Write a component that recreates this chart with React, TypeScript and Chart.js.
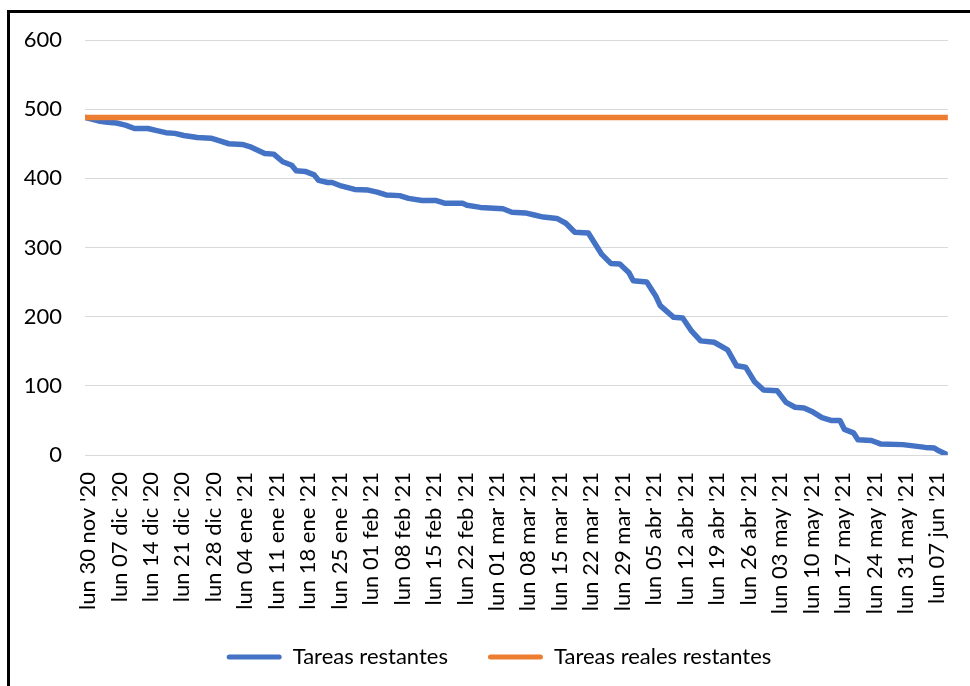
import { useEffect, useRef } from "react";
import { Chart, registerables } from "chart.js";

Chart.register(...registerables);

const tickLabels = [
  "lun 30 nov '20", "lun 07 dic '20", "lun 14 dic '20", "lun 21 dic '20", "lun 28 dic '20",
  "lun 04 ene '21", "lun 11 ene '21", "lun 18 ene '21", "lun 25 ene '21", "lun 01 feb '21",
  "lun 08 feb '21", "lun 15 feb '21", "lun 22 feb '21", "lun 01 mar '21", "lun 08 mar '21",
  "lun 15 mar '21", "lun 22 mar '21", "lun 29 mar '21", "lun 05 abr '21", "lun 12 abr '21",
  "lun 19 abr '21", "lun 26 abr '21", "lun 03 may '21", "lun 10 may '21", "lun 17 may '21",
  "lun 24 may '21", "lun 31 may '21", "lun 07 jun '21",
];

// days since lun 30 nov '20
const dayOffsets = [
  0, 3, 5, 7, 9, 11, 14, 16, 18, 20, 22, 25, 28, 30, 32, 35, 37, 40, 42, 44,
  46, 47, 49, 51, 52, 54, 55, 57, 60, 63, 65, 67, 70, 72, 75, 78, 80, 84, 85, 88,
  93, 95, 98, 100, 102, 105, 107, 109, 112, 115, 117, 119, 121, 122, 125, 127, 128, 131, 133, 135,
  137, 140, 143, 145, 147, 149, 151, 154, 156, 158, 160, 162, 164, 166, 168, 169, 171, 172, 175, 177,
  182, 187, 189, 190, 192,
];

const remainingTasks = [
  488, 483, 481, 480, 477, 472, 472, 469, 466, 465, 462, 459, 458, 454, 450, 449, 445, 436, 435, 424,
  419, 411, 410, 405, 397, 394, 394, 389, 384, 383, 380, 376, 375, 371, 368, 368, 364, 364, 361, 358,
  356, 351, 350, 347, 344, 342, 335, 322, 321, 290, 277, 276, 264, 252, 250, 230, 216, 199, 198, 179,
  165, 163, 152, 129, 127, 106, 94, 93, 76, 69, 68, 62, 54, 50, 50, 37, 32, 22, 21, 16,
  15, 11, 10, 6, 0,
];

const realDayOffsets = [0, 192];
const realRemainingTasks = [488, 488];

const seriesNames = ["Tareas restantes", "Tareas reales restantes"];
const seriesColors = ["#4472C4", "#ED7D31"];

const FONT = "Lato";
const FONT_SIZE = 22;

export default function App() {
  const canvasRef = useRef<HTMLCanvasElement | null>(null);

  useEffect(() => {
    if (!canvasRef.current) return;
    const chart = new Chart(canvasRef.current, {
      type: "line",
      data: {
        datasets: [
          {
            label: seriesNames[0],
            data: dayOffsets.map((d, i) => ({ x: d, y: remainingTasks[i] })),
            borderColor: seriesColors[0],
            backgroundColor: seriesColors[0],
            borderWidth: 5.5,
            pointRadius: 0,
            tension: 0,
            borderJoinStyle: "round",
            borderCapStyle: "round",
            order: 2,
          },
          {
            label: seriesNames[1],
            data: realDayOffsets.map((d, i) => ({ x: d, y: realRemainingTasks[i] })),
            borderColor: seriesColors[1],
            backgroundColor: seriesColors[1],
            borderWidth: 5.5,
            pointRadius: 0,
            tension: 0,
            borderJoinStyle: "round",
            borderCapStyle: "round",
            order: 1,
          },
        ],
      },
      options: {
        animation: false,
        responsive: false,
        maintainAspectRatio: false,
        layout: { padding: { left: 44, right: 16, top: 40, bottom: 8 } },
        scales: {
          x: {
            type: "linear",
            min: 0,
            max: 192,
            grid: { display: false },
            border: { display: false },
            afterBuildTicks: (s: any) => {
              s.ticks = tickLabels.map((_, i) => ({ value: i * 7 }));
            },
            afterFit: (s: any) => {
              s.height = 151;
              s._computeLabelArea = () => undefined;
            },
            ticks: {
              autoSkip: false,
              maxRotation: 90,
              minRotation: 90,
              padding: 9,
              labelOffset: 3,
              color: "#000",
              font: { family: FONT, size: FONT_SIZE },
              callback: (v: any) => tickLabels[Math.round(Number(v) / 7)] ?? "",
            },
          },
          y: {
            min: 0,
            max: 600,
            ticks: {
              stepSize: 100,
              padding: 23,
              color: "#000",
              font: { family: FONT, size: FONT_SIZE },
            },
            grid: { color: "#D9D9D9", lineWidth: 1, drawTicks: false },
            border: { display: false },
            afterFit: (s: any) => {
              s.width = 41;
              s._computeLabelArea = () => undefined;
            },
          },
        },
        plugins: {
          tooltip: { enabled: false },
          legend: {
            position: "bottom",
            labels: {
              color: "#000",
              font: { family: FONT, size: FONT_SIZE },
              boxWidth: 55,
              boxHeight: 5,
              padding: 40,
              generateLabels: (c: any) => {
                const items = (Chart.defaults.plugins.legend.labels as any).generateLabels(c);
                return items
                  .sort((a: any, b: any) => a.datasetIndex - b.datasetIndex)
                  .map((it: any) => ({
                    ...it,
                    fillStyle: seriesColors[it.datasetIndex],
                    strokeStyle: seriesColors[it.datasetIndex],
                    lineWidth: 0,
                    borderRadius: 2.5,
                  }));
              },
            },
          },
        },
      },
    });
    return () => chart.destroy();
  }, []);

  return (
    <div style={{ position: "fixed", left: 0, top: 0, width: 970, height: 686, background: "#fff", overflow: "hidden" }}>
      <div
        style={{
          position: "absolute",
          left: 7,
          top: 10,
          width: 1200,
          height: 1000,
          borderLeft: "3px solid #000",
          borderTop: "3px solid #000",
          boxSizing: "border-box",
        }}
      />
      <canvas ref={canvasRef} width={970} height={686} style={{ position: "absolute", left: 0, top: 0, display: "block" }} />
    </div>
  );
}
